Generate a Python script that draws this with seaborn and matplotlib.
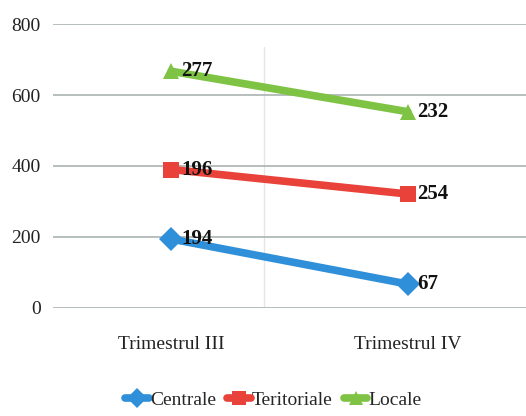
#-----------------------------------------------------------------
# Required Python Packages
#-----------------------------------------------------------------

import numpy as np
import pandas as pd
import matplotlib
matplotlib.use("Agg")
import matplotlib.pyplot as plt
from matplotlib.lines import Line2D
import seaborn as sns

#-----------------------------------------------------------------
# Data
#-----------------------------------------------------------------

categories = ["Trimestrul III", "Trimestrul IV"]
series_names = ["Centrale", "Teritoriale", "Locale"]
centrale = [194, 67]
teritoriale = [196, 254]
locale = [277, 232]

colors = ["#2f8fd8", "#e8423a", "#7ec344"]
markers = ["D", "s", "^"]

#-----------------------------------------------------------------
# Build stacked table
#-----------------------------------------------------------------

values = np.array([centrale, teritoriale, locale])
stacked = np.cumsum(values, axis=0)

rows = []
for i, name in enumerate(series_names):
    for j, cat in enumerate(categories):
        rows.append({"serie": name, "pos": j, "value": values[i, j], "stacked": stacked[i, j]})
df = pd.DataFrame(rows)

#-----------------------------------------------------------------
# Plot
#-----------------------------------------------------------------

sns.set_style("white")
plt.rcParams["font.family"] = ["Liberation Serif", "DejaVu Serif"]

fig = plt.figure(figsize=(5.26, 4.16), dpi=100)
ax = fig.add_axes([0.101, 0.26, 0.899, 0.682])

sns.lineplot(
    data=df, x="pos", y="stacked", hue="serie", style="serie",
    palette=dict(zip(series_names, colors)),
    markers=dict(zip(series_names, markers)),
    dashes=False, linewidth=5.5, markersize=12, markeredgewidth=0,
    legend=False, ax=ax,
)

# value labels next to each point
for _, r in df.iterrows():
    ax.annotate(str(r["value"]), (r["pos"], r["stacked"]),
                xytext=(7, 0), textcoords="offset points",
                ha="left", va="center", fontsize=15, fontweight="bold",
                color="#111111")

ax.set_xlim(-0.5, 1.5)
ax.set_ylim(0, 800)
ax.set_yticks([0, 200, 400, 600, 800])
ax.set_xticks([0, 1])
ax.set_xticklabels(categories)
ax.set_xlabel("")
ax.set_ylabel("")
ax.tick_params(axis="both", length=0, labelsize=14, colors="#222222")
ax.tick_params(axis="y", pad=9)
ax.tick_params(axis="x", pad=20)

ax.yaxis.grid(True, color="#a9b3b3", linewidth=1.2)
ax.axvline(0.39, ymin=0, ymax=0.92, color="#e6e6e6", linewidth=1, zorder=0)
for side in ["top", "right", "left", "bottom"]:
    ax.spines[side].set_visible(False)

handles = [Line2D([0], [0], color=c, marker=m, linewidth=5.5, markersize=10,
                  markeredgewidth=0) for c, m in zip(colors, markers)]
fig.legend(handles, series_names, loc="lower center", ncol=3,
           bbox_to_anchor=(0.52, -0.025), frameon=False, fontsize=14,
           handlelength=1.2, handletextpad=0.05, columnspacing=0.6)

fig.savefig("out.png", dpi=100)
